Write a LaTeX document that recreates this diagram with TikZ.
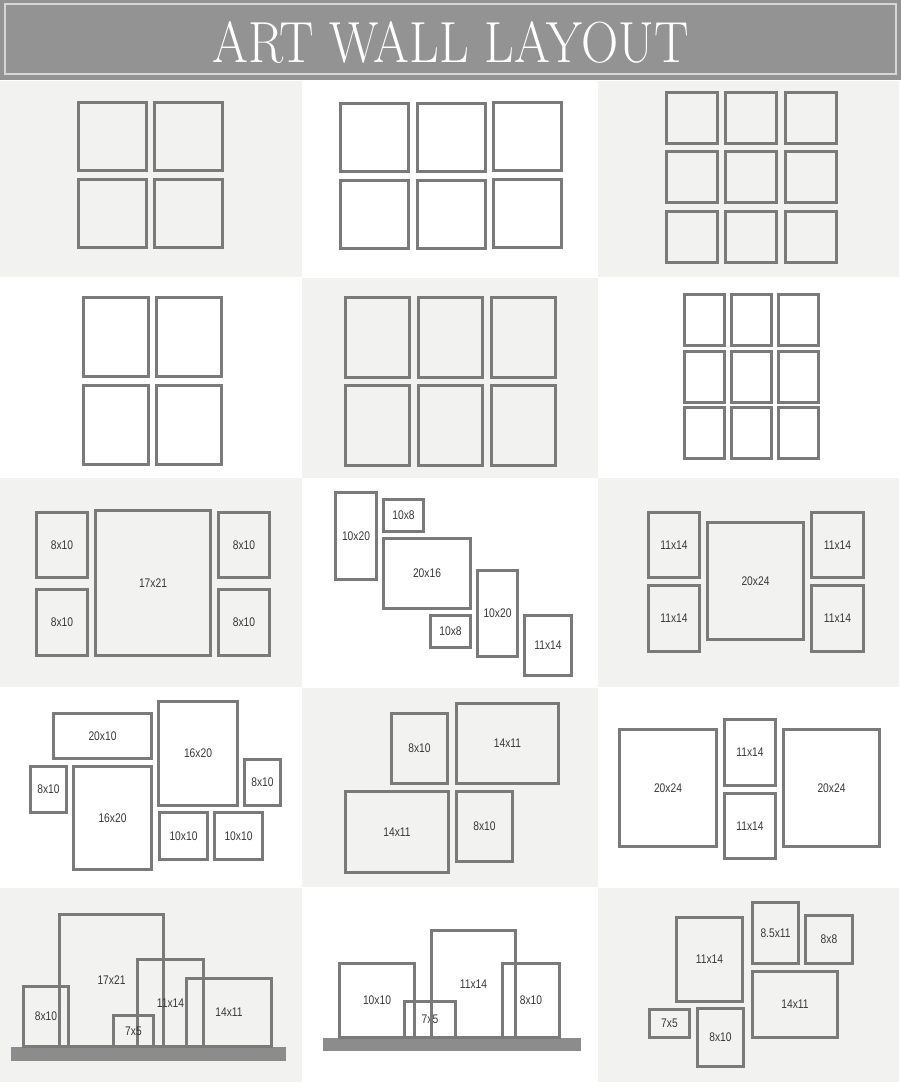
\documentclass[tikz,border=0pt]{standalone}
\usepackage{fontspec}
\newfontfamily\framefont[FakeStretch=0.82]{Liberation Sans}
\usepackage{tikz}
\definecolor{headergray}{HTML}{939393}
\definecolor{headerline}{HTML}{D6D6D6}
\definecolor{cellgray}{HTML}{F2F2F0}
\definecolor{framegray}{HTML}{7A7A7A}
\definecolor{shelfgray}{HTML}{8C8C8C}
\definecolor{labelgray}{HTML}{383838}

\begin{document}
\begin{tikzpicture}[x=1pt,y=-1pt,
    frame/.style={draw=framegray,line width=3pt,rectangle,inner sep=0pt,text=labelgray,font={\framefont\fontsize{12.5}{12.5}\selectfont}}]
	\useasboundingbox (0,0) rectangle (901,1084);
	% header
	\fill[headergray] (0,0) rectangle (901,80);
	\draw[headerline,line width=1.5pt] (5,4) rectangle (896,74);
	\node[text=white,font=\fontsize{58}{58}\selectfont,inner sep=0pt] (TITLE) at (451,42) {\scalebox{0.89}[1]{ART WALL LAYOUT}};
	% cell backgrounds
	\fill[cellgray] (0,81) rectangle (302,277);
	\fill[cellgray] (598,81) rectangle (899,277);
	\fill[cellgray] (302,278) rectangle (598,478);
	\fill[cellgray] (0,478) rectangle (302,687);
	\fill[cellgray] (598,478) rectangle (899,687);
	\fill[cellgray] (302,688) rectangle (598,887);
	\fill[cellgray] (0,888) rectangle (302,1082);
	\fill[cellgray] (598,888) rectangle (899,1082);
	% shelves
	\fill[shelfgray] (11,1047) rectangle (286,1061);
	\fill[shelfgray] (323,1038) rectangle (581,1051);
	% row 1
	\node[frame,minimum width=68,minimum height=68] (P11_TL) at (112.5,136.5) {};
	\node[frame,minimum width=68,minimum height=68] (P11_TR) at (188.5,136.5) {};
	\node[frame,minimum width=68,minimum height=68] (P11_BL) at (112.5,213.5) {};
	\node[frame,minimum width=68,minimum height=68] (P11_BR) at (188.5,213.5) {};
	\node[frame,minimum width=68,minimum height=68] (P12_TL) at (374.5,137) {};
	\node[frame,minimum width=68,minimum height=68] (P12_TM) at (451.5,137) {};
	\node[frame,minimum width=68,minimum height=68] (P12_TR) at (527.5,136.5) {};
	\node[frame,minimum width=68,minimum height=68] (P12_BL) at (374.5,214) {};
	\node[frame,minimum width=68,minimum height=68] (P12_BM) at (451.5,214) {};
	\node[frame,minimum width=68,minimum height=68] (P12_BR) at (527.5,213.5) {};
	\node[frame,minimum width=51,minimum height=51] (P13_TL) at (692,118) {};
	\node[frame,minimum width=51,minimum height=51] (P13_TM) at (751,118) {};
	\node[frame,minimum width=51,minimum height=51] (P13_TR) at (810.5,118) {};
	\node[frame,minimum width=51,minimum height=51] (P13_ML) at (692,177) {};
	\node[frame,minimum width=51,minimum height=51] (P13_MM) at (751,177) {};
	\node[frame,minimum width=51,minimum height=51] (P13_MR) at (810.5,177) {};
	\node[frame,minimum width=51,minimum height=51] (P13_BL) at (692,237) {};
	\node[frame,minimum width=51,minimum height=51] (P13_BM) at (751,237) {};
	\node[frame,minimum width=51,minimum height=51] (P13_BR) at (810.5,237) {};
	% row 2
	\node[frame,minimum width=65,minimum height=79] (P21_TL) at (116,337) {};
	\node[frame,minimum width=65,minimum height=79] (P21_TR) at (189,337) {};
	\node[frame,minimum width=65,minimum height=79] (P21_BL) at (116,425) {};
	\node[frame,minimum width=65,minimum height=79] (P21_BR) at (189,425) {};
	\node[frame,minimum width=64,minimum height=80] (P22_TL) at (377.5,337.5) {};
	\node[frame,minimum width=64,minimum height=80] (P22_TM) at (450.5,337.5) {};
	\node[frame,minimum width=64,minimum height=80] (P22_TR) at (523.5,337.5) {};
	\node[frame,minimum width=64,minimum height=80] (P22_BL) at (377.5,425.5) {};
	\node[frame,minimum width=64,minimum height=80] (P22_BM) at (450.5,425.5) {};
	\node[frame,minimum width=64,minimum height=80] (P22_BR) at (523.5,425.5) {};
	\node[frame,minimum width=40,minimum height=51] (P23_TL) at (704.5,319.5) {};
	\node[frame,minimum width=40,minimum height=51] (P23_TM) at (751.5,319.5) {};
	\node[frame,minimum width=40,minimum height=51] (P23_TR) at (798.5,319.5) {};
	\node[frame,minimum width=40,minimum height=51] (P23_ML) at (704.5,377) {};
	\node[frame,minimum width=40,minimum height=51] (P23_MM) at (751.5,377) {};
	\node[frame,minimum width=40,minimum height=51] (P23_MR) at (798.5,377) {};
	\node[frame,minimum width=40,minimum height=51] (P23_BL) at (704.5,433) {};
	\node[frame,minimum width=40,minimum height=51] (P23_BM) at (751.5,433) {};
	\node[frame,minimum width=40,minimum height=51] (P23_BR) at (798.5,433) {};
	% row 3
	\node[frame,minimum width=51,minimum height=65] (P31_TL) at (62,545) {8x10};
	\node[frame,minimum width=51,minimum height=66] (P31_BL) at (62,622.5) {8x10};
	\node[frame,minimum width=115,minimum height=145] (P31_CENTER) at (153,583) {17x21};
	\node[frame,minimum width=51,minimum height=65] (P31_TR) at (244,545) {8x10};
	\node[frame,minimum width=51,minimum height=66] (P31_BR) at (244,622.5) {8x10};
	\node[frame,minimum width=41,minimum height=87] (P32_TALL_A) at (356,536) {10x20};
	\node[frame,minimum width=40,minimum height=32] (P32_SMALL_A) at (403.5,515.5) {10x8};
	\node[frame,minimum width=87,minimum height=70] (P32_WIDE) at (427,573.5) {20x16};
	\node[frame,minimum width=40,minimum height=32] (P32_SMALL_B) at (450.5,631.5) {10x8};
	\node[frame,minimum width=40,minimum height=86] (P32_TALL_B) at (497.5,613.5) {10x20};
	\node[frame,minimum width=47,minimum height=60] (P32_LAST) at (548,645.5) {11x14};
	\node[frame,minimum width=51,minimum height=65] (P33_TL) at (674,545) {11x14};
	\node[frame,minimum width=51,minimum height=66] (P33_BL) at (674,618.5) {11x14};
	\node[frame,minimum width=96,minimum height=117] (P33_CENTER) at (755.5,581) {20x24};
	\node[frame,minimum width=52,minimum height=65] (P33_TR) at (837.5,545) {11x14};
	\node[frame,minimum width=52,minimum height=66] (P33_BR) at (837.5,618.5) {11x14};
	% row 4
	\node[frame,minimum width=98,minimum height=45] (P41_WIDE) at (102.5,736) {20x10};
	\node[frame,minimum width=36,minimum height=46] (P41_LEFT) at (48.5,789.5) {8x10};
	\node[frame,minimum width=78,minimum height=103] (P41_TALL_A) at (112.5,818) {16x20};
	\node[frame,minimum width=79,minimum height=104] (P41_TALL_B) at (198,753.5) {16x20};
	\node[frame,minimum width=36,minimum height=46] (P41_RIGHT) at (262.5,782.5) {8x10};
	\node[frame,minimum width=48,minimum height=47] (P41_SQ_A) at (183.5,836) {10x10};
	\node[frame,minimum width=48,minimum height=47] (P41_SQ_B) at (238.5,836) {10x10};
	\node[frame,minimum width=56,minimum height=70] (P42_TL) at (419.5,748.5) {8x10};
	\node[frame,minimum width=102,minimum height=80] (P42_TR) at (507.5,743.5) {14x11};
	\node[frame,minimum width=103,minimum height=81] (P42_BL) at (397,832) {14x11};
	\node[frame,minimum width=56,minimum height=70] (P42_BR) at (484.5,826.5) {8x10};
	\node[frame,minimum width=97,minimum height=117] (P43_LEFT) at (668,788) {20x24};
	\node[frame,minimum width=51,minimum height=66] (P43_TOP) at (750,752.5) {11x14};
	\node[frame,minimum width=51,minimum height=65] (P43_BOTTOM) at (750,826) {11x14};
	\node[frame,minimum width=96,minimum height=117] (P43_RIGHT) at (831.5,788) {20x24};
	% row 5
	\node[frame,minimum width=45,minimum height=60] (P51_A) at (46,1016.5) {8x10};
	\node[frame,minimum width=104,minimum height=132] (P51_B) at (111.5,980.5) {17x21};
	\node[frame,minimum width=66,minimum height=87] (P51_C) at (170.5,1003) {11x14};
	\node[frame,minimum width=40,minimum height=31] (P51_D) at (133.5,1031) {7x5};
	\node[frame,minimum width=85,minimum height=68] (P51_E) at (229,1012.5) {14x11};
	\node[frame,minimum width=75,minimum height=74] (P52_A) at (377,1000.5) {10x10};
	\node[frame,minimum width=51,minimum height=36] (P52_B) at (430,1019.5) {7x5};
	\node[frame,minimum width=84,minimum height=107] (P52_C) at (473.5,984) {11x14};
	\node[frame,minimum width=57,minimum height=74] (P52_D) at (531,1000.5) {8x10};
	\node[frame,minimum width=66,minimum height=84] (P53_A) at (709.5,959.5) {11x14};
	\node[frame,minimum width=46,minimum height=61] (P53_B) at (775.5,933) {8.5x11};
	\node[frame,minimum width=47,minimum height=48] (P53_C) at (829,939.5) {8x8};
	\node[frame,minimum width=85,minimum height=66] (P53_D) at (795,1004.5) {14x11};
	\node[frame,minimum width=40,minimum height=28] (P53_E) at (669.5,1023.5) {7x5};
	\node[frame,minimum width=46,minimum height=58] (P53_F) at (720.5,1037.5) {8x10};
\end{tikzpicture}
\end{document}
